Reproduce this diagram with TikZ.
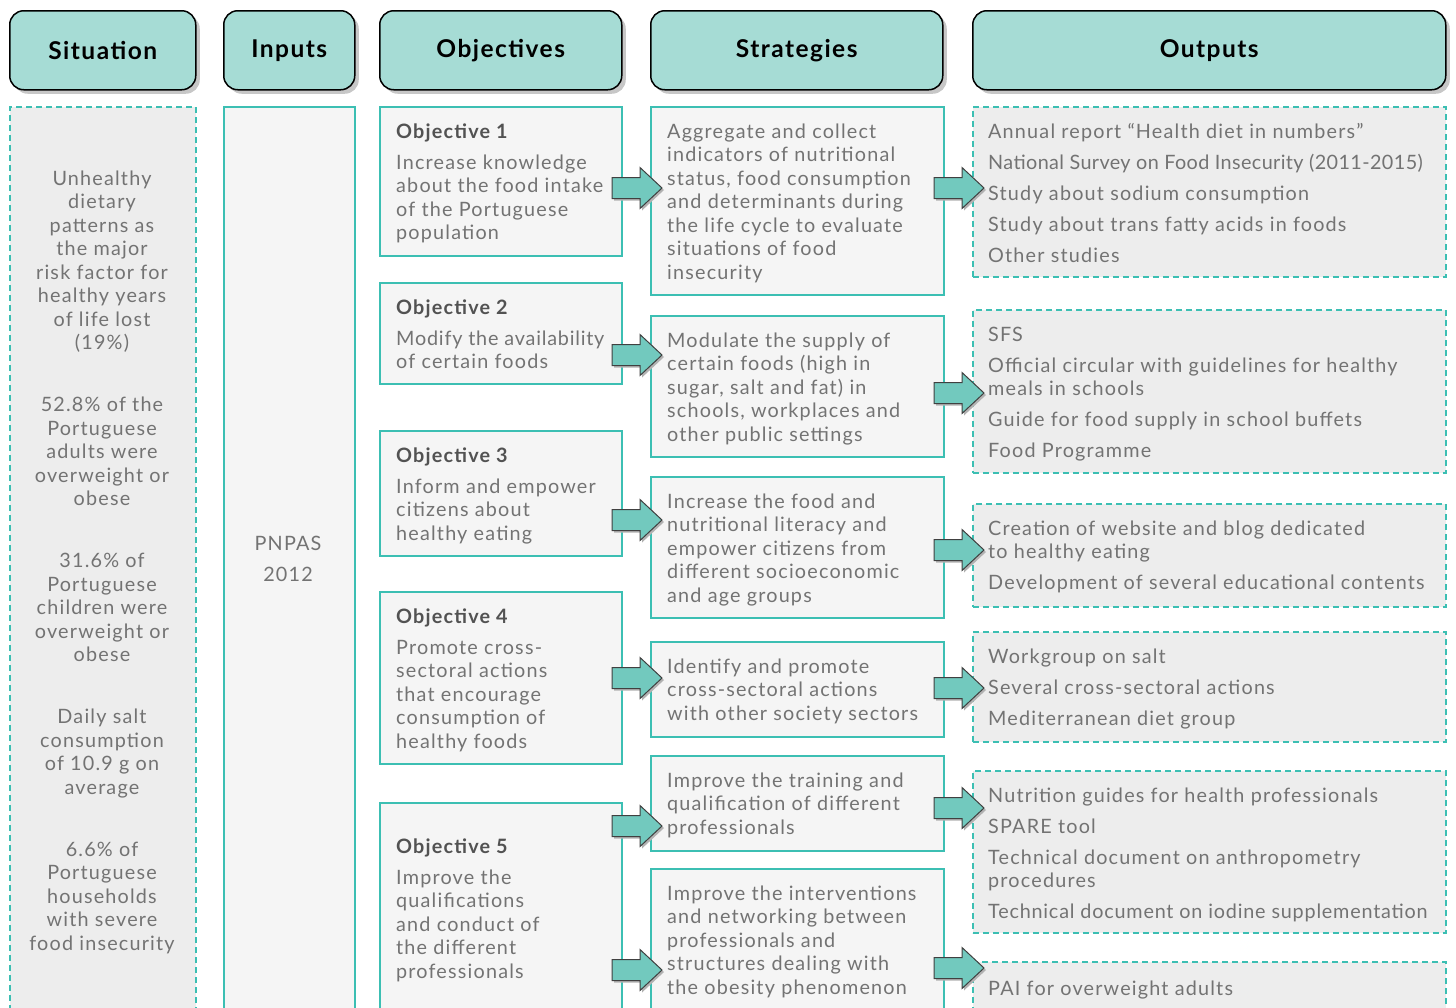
\documentclass[tikz,border=0pt]{standalone}
\usepackage{fontspec}
\setmainfont{Lato}[LetterSpace=6]
\usetikzlibrary{shadows,calc}

\definecolor{headfill}{HTML}{A6DCD5}
\definecolor{tealline}{HTML}{3CBFB3}
\definecolor{arrowfill}{HTML}{72C9BE}
\definecolor{grayfill}{HTML}{EDEDED}
\definecolor{palefill}{HTML}{F5F5F5}
\definecolor{textgray}{HTML}{737373}

\tikzset{
  header/.style={draw=black, line width=1.5pt, fill=headfill, rounded corners=14pt,
    anchor=north west, font=\bfseries\fontsize{24.5}{28}\selectfont,
    drop shadow={shadow xshift=4pt, shadow yshift=-4pt, fill=black!22, opacity=1}},
  solidbox/.style={draw=tealline, line width=2pt, fill=palefill, anchor=north west, inner sep=0pt},
  dashbox/.style={draw=tealline, line width=1.6pt, dash pattern=on 6pt off 4pt,
    fill=grayfill, anchor=north west, inner sep=0pt},
  boxtext/.style={anchor=north west, inner sep=0pt, align=left, text=textgray,
    font=\fontsize{19.8}{23.5}\selectfont, execute at begin node=\strut},
  midtext/.style={boxtext, anchor=north, align=center},
  flowarrow/.style={draw=black!75, line width=1pt, fill=arrowfill,
    drop shadow={shadow xshift=2pt, shadow yshift=-2pt, fill=black!30, opacity=1}}
}

% block arrow from node #1 into node #2 at height #3
\newcommand\flow[3]{%
  \coordinate (fs) at ($(#1.east |- 0,#3)+(-11,0)$);
  \coordinate (ft) at ($(#2.west |- 0,#3)+(12,0)$);
  \draw[flowarrow] (fs) ++(0,-10.5) -- ++(28,0) -- ++(0,-10) -- (ft)
    -- ($(fs)+(28,20.5)$) -- ++(0,-10) -- ++(-28,0) -- cycle;
}

\newcommand\objhead[1]{{\bfseries\color{black!68}Objective #1}\\[7.5pt]}
\newcommand\tight[2]{{\addfontfeatures{LetterSpace=#1}#2}}

\begin{document}
\begin{tikzpicture}[x=1pt,y=-1pt]
  \useasboundingbox (0,0) rectangle (1456,1007);
  \fill[white] (0,0) rectangle (1456,1007);
  \clip (0,0) rectangle (1456,1007);

  % Column headers
  \foreach \Name/\Label/\Left/\Right in {sit/Situation/9/195, inp/Inputs/223/354,
      obj/Objectives/379/621, str/Strategies/650/942, out/Outputs/972/1445}
    \node[header, minimum width=\Right-\Left, minimum height=79] (h\Name) at (\Left,10) {\Label};

  % Situation and inputs
  \node[dashbox, minimum width=186, minimum height=930] (sit) at (9,106) {};
  \node[solidbox, minimum width=131, minimum height=930] (inp) at (223,106) {};

  % Objectives
  \foreach \Name/\Top/\Bot in {o1/106/255, o2/282/383, o3/430/555, o4/591/763, o5/802/1030}
    \node[solidbox, minimum width=242, minimum height=\Bot-\Top] (\Name) at (379,\Top) {};

  % Strategies
  \foreach \Name/\Top/\Bot in {s1/106/294, s2/315/456, s3/476/617, s4/641/736, s5/755/850, s6/868/1030}
    \node[solidbox, minimum width=293, minimum height=\Bot-\Top] (\Name) at (650,\Top) {};

  % Outputs
  \foreach \Name/\Top/\Bot in {u1/106/276, u2/309/472, u3/503/606, u4/631/741, u5/770/932, u6/961/1030}
    \node[dashbox, minimum width=473, minimum height=\Bot-\Top] (\Name) at (972,\Top) {};

  % Texts
  \node[midtext] (sittext) at (102,170.5) {Unhealthy\\dietary\\patterns as\\the major\\risk factor for\\healthy years\\of life lost\\(19\%)\\[38.5pt]
    52.8\% of the\\Portuguese\\adults were\\overweight or\\obese\\[38.5pt]
    31.6\% of\\Portuguese\\children were\\overweight or\\obese\\[38.5pt]
    Daily salt\\consumption\\of 10.9 g on\\average\\[38.5pt]
    6.6\% of\\Portuguese\\households\\with severe\\food insecurity};
  \node[midtext] (inptext) at (288,535.5) {PNPAS\\[7.5pt]2012};

  \node[boxtext] (o1text) at ($(o1.north west)+(17,17.5)$) {\objhead{1}Increase knowledge\\about the food intake\\of the Portuguese\\population};
  \node[boxtext] (o2text) at ($(o2.north west)+(17,17.5)$) {\objhead{2}\tight{4}{Modify the availability}\\of certain foods};
  \node[boxtext] (o3text) at ($(o3.north west)+(17,17.5)$) {\objhead{3}Inform and empower\\citizens about\\healthy eating};
  \node[boxtext] (o4text) at ($(o4.north west)+(17,17.5)$) {\objhead{4}Promote cross-\\sectoral actions\\that encourage\\consumption of\\healthy foods};
  \node[boxtext] (o5text) at ($(o5.north west)+(17,36.5)$) {\objhead{5}Improve the\\qualifications\\and conduct of\\the different\\professionals};

  \node[boxtext] (s1text) at ($(s1.north west)+(17,17.5)$) {Aggregate and collect\\indicators of nutritional\\status, food consumption\\and determinants during\\the life cycle to evaluate\\situations of food\\insecurity};
  \node[boxtext] (s2text) at ($(s2.north west)+(17,17.5)$) {Modulate the supply of\\certain foods (high in\\sugar, salt and fat) in\\schools, workplaces and\\other public settings};
  \node[boxtext] (s3text) at ($(s3.north west)+(17,17.5)$) {Increase the food and\\nutritional literacy and\\empower citizens from\\different socioeconomic\\and age groups};
  \node[boxtext] (s4text) at ($(s4.north west)+(17,17.5)$) {Identify and promote\\cross-sectoral actions\\with other society sectors};
  \node[boxtext] (s5text) at ($(s5.north west)+(17,17.5)$) {Improve the training and\\qualification of different\\professionals};
  \node[boxtext] (s6text) at ($(s6.north west)+(17,17.5)$) {Improve the interventions\\and networking between\\professionals and\\structures dealing with\\the obesity phenomenon};

  \node[boxtext] (u1text) at ($(u1.north west)+(16,17.5)$) {Annual report “Health diet in numbers”\\[7.5pt]\tight{2}{National Survey on Food Insecurity (2011-2015)}\\[7.5pt]Study about sodium consumption\\[7.5pt]Study about trans fatty acids in foods\\[7.5pt]Other studies};
  \node[boxtext] (u2text) at ($(u2.north west)+(16,17.5)$) {SFS\\[7.5pt]Official circular with guidelines for healthy\\meals in schools\\[7.5pt]Guide for food supply in school buffets\\[7.5pt]Food Programme};
  \node[boxtext] (u3text) at ($(u3.north west)+(16,17.5)$) {Creation of website and blog dedicated\\to healthy eating\\[7.5pt]Development of several educational contents};
  \node[boxtext] (u4text) at ($(u4.north west)+(16,17.5)$) {Workgroup on salt\\[7.5pt]Several cross-sectoral actions\\[7.5pt]Mediterranean diet group};
  \node[boxtext] (u5text) at ($(u5.north west)+(16,17.5)$) {Nutrition guides for health professionals\\[7.5pt]SPARE tool\\[7.5pt]Technical document on anthropometry\\procedures\\[7.5pt]\tight{4}{Technical document on iodine supplementation}};
  \node[boxtext] (u6text) at ($(u6.north west)+(16,17.5)$) {PAI for overweight adults};

  % Arrows objectives -> strategies
  \flow{o1}{s1}{188}
  \flow{o2}{s2}{355}
  \flow{o3}{s3}{520}
  \flow{o4}{s4}{678}
  \flow{o5}{s5}{826}
  \flow{o5}{s6}{970}

  % Arrows strategies -> outputs
  \flow{s1}{u1}{188}
  \flow{s2}{u2}{393}
  \flow{s3}{u3}{550}
  \flow{s4}{u4}{688}
  \flow{s5}{u5}{808}
  \flow{s6}{u6}{968}
\end{tikzpicture}
\end{document}
